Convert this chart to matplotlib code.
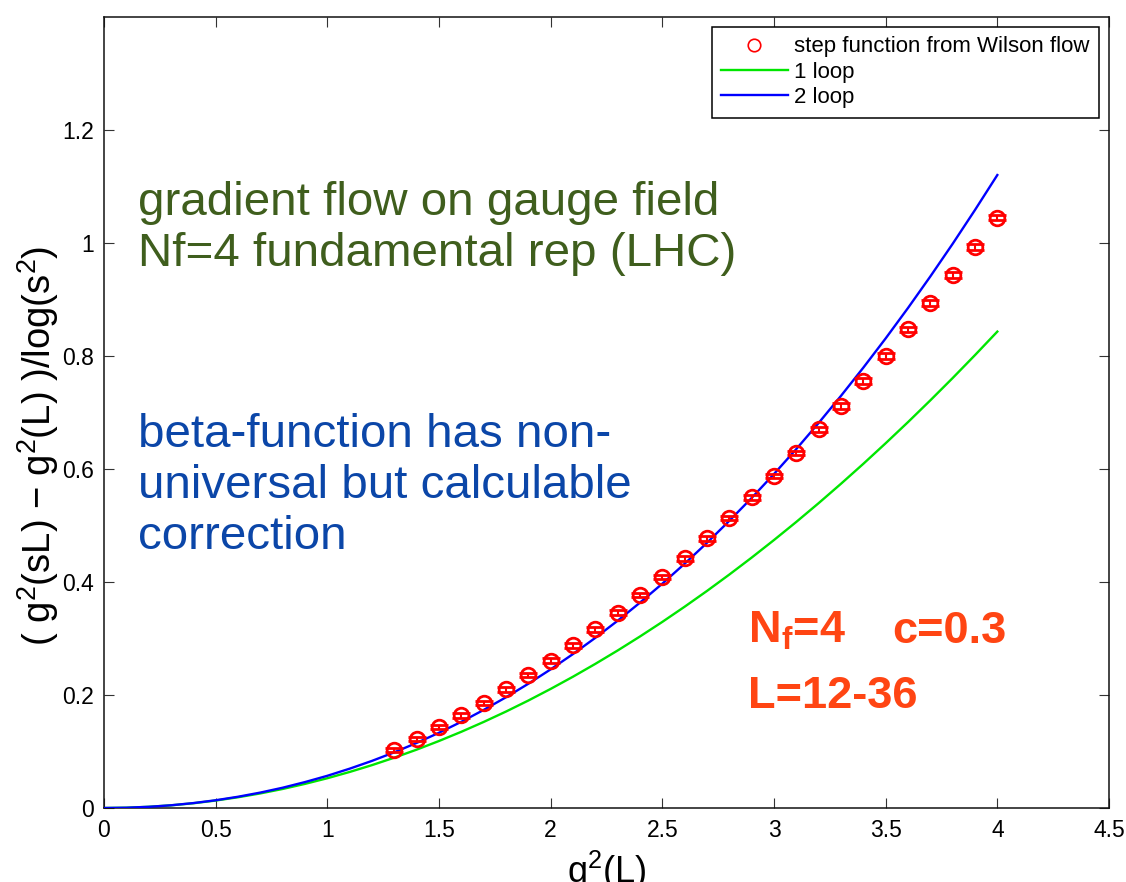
#!/usr/bin/env python3
"""Step function from Wilson flow vs. 1-loop and 2-loop perturbation theory."""
import matplotlib
matplotlib.use('Agg')
import matplotlib.pyplot as plt
from matplotlib.lines import Line2D

plt.rcParams['font.family'] = ['Liberation Sans', 'DejaVu Sans']
plt.rcParams['mathtext.fontset'] = 'custom'
plt.rcParams['mathtext.rm'] = 'Liberation Sans'
plt.rcParams['mathtext.it'] = 'Liberation Sans:italic'
plt.rcParams['mathtext.bf'] = 'Liberation Sans:bold'

# lattice step function
g2_data = [1.3, 1.4, 1.5, 1.6, 1.7, 1.8, 1.9, 2.0, 2.1, 2.2, 2.3, 2.4, 2.5, 2.6,
           2.7, 2.8, 2.9, 3.0, 3.1, 3.2, 3.3, 3.4, 3.5, 3.6, 3.7, 3.8, 3.9, 4.0]
step_data = [0.103, 0.122, 0.143, 0.164, 0.186, 0.210, 0.235, 0.261, 0.288, 0.316,
             0.346, 0.377, 0.409, 0.442, 0.477, 0.513, 0.550, 0.588, 0.628, 0.670,
             0.712, 0.756, 0.800, 0.847, 0.894, 0.943, 0.993, 1.045]
step_err = [0.004, 0.004, 0.004, 0.004, 0.004, 0.004, 0.004, 0.004, 0.004, 0.004,
            0.004, 0.004, 0.004, 0.004, 0.004, 0.004, 0.004, 0.004, 0.004, 0.005,
            0.005, 0.005, 0.005, 0.005, 0.005, 0.005, 0.005, 0.005]

# perturbative curves
g2_pt = [0.0, 0.1, 0.2, 0.3, 0.4, 0.5, 0.6, 0.7, 0.8, 0.9, 1.0, 1.1, 1.2, 1.3,
         1.4, 1.5, 1.6, 1.7, 1.8, 1.9, 2.0, 2.1, 2.2, 2.3, 2.4, 2.5, 2.6, 2.7,
         2.8, 2.9, 3.0, 3.1, 3.2, 3.3, 3.4, 3.5, 3.6, 3.7, 3.8, 3.9, 4.0]
one_loop = [0.0, 0.0005, 0.0021, 0.0047, 0.0084, 0.0132, 0.0190, 0.0258, 0.0337,
            0.0427, 0.0527, 0.0638, 0.0759, 0.0891, 0.1033, 0.1186, 0.1349,
            0.1523, 0.1707, 0.1902, 0.2108, 0.2324, 0.2551, 0.2788, 0.3036,
            0.3294, 0.3563, 0.3842, 0.4132, 0.4432, 0.4743, 0.5064, 0.5396,
            0.5739, 0.6092, 0.6456, 0.6830, 0.7215, 0.7610, 0.8016, 0.8432]
two_loop = [0.0, 0.0005, 0.0021, 0.0048, 0.0087, 0.0137, 0.0199, 0.0273, 0.0359,
            0.0459, 0.0570, 0.0696, 0.0834, 0.0986, 0.1152, 0.1332, 0.1526,
            0.1736, 0.1960, 0.2199, 0.2454, 0.2725, 0.3012, 0.3315, 0.3635,
            0.3971, 0.4324, 0.4694, 0.5083, 0.5488, 0.5912, 0.6354, 0.6815,
            0.7295, 0.7794, 0.8312, 0.8850, 0.9408, 0.9986, 1.0585, 1.1203]

xticks = [0, 0.5, 1, 1.5, 2, 2.5, 3, 3.5, 4, 4.5]
xticklabels = ['0', '0.5', '1', '1.5', '2', '2.5', '3', '3.5', '4', '4.5']
yticks = [0, 0.2, 0.4, 0.6, 0.8, 1.0, 1.2]
yticklabels = ['0', '0.2', '0.4', '0.6', '0.8', '1', '1.2']

W, H = 1126, 882
fig = plt.figure(figsize=(W / 100, H / 100), dpi=100)
ax = fig.add_axes([104 / W, 74 / H, 1005 / W, 791 / H])

ax.plot(g2_pt, one_loop, color='#00e600', lw=1.7, zorder=2)
ax.plot(g2_pt, two_loop, color='#0000ff', lw=1.7, zorder=3)
ax.errorbar(g2_data, step_data, yerr=step_err, fmt='o', color='#ff0000',
            mfc='none', mec='#ff0000', ms=10.5, mew=2.0, elinewidth=1.5,
            capsize=6.5, capthick=1.5, zorder=4)

ax.set_xlim(0, 4.5)
ax.set_ylim(0, 1.4)
ax.set_xticks(xticks)
ax.set_xticklabels(xticklabels)
ax.set_yticks(yticks)
ax.set_yticklabels(yticklabels)
ax.tick_params(direction='in', length=7, width=0.8, top=True, right=True,
               labelsize=16.5, color='#333333')
ax.tick_params(axis='x', pad=8)
ax.tick_params(axis='y', pad=7)
for sp in ax.spines.values():
    sp.set_linewidth(1.1)
    sp.set_color('#111111')

fig.text(606.5 / W, 1 - 849 / H, r'g$^{2}$(L)', fontsize=26, ha='center', va='top')
fig.text(38 / W, 1 - 446 / H, r'( g$^{2}$(sL) − g$^{2}$(L) )/log(s$^{2}$)',
         fontsize=27.5, rotation=90, ha='center', va='center')

handles = [
    Line2D([], [], ls='none', marker='o', mfc='none', mec='#ff0000', ms=9, mew=1.2),
    Line2D([], [], color='#00e600', lw=1.7),
    Line2D([], [], color='#0000ff', lw=1.7),
]
labels = ['step function from Wilson flow', '1 loop', '2 loop']
leg = ax.legend(handles, labels, loc='upper right',
                bbox_to_anchor=((1099 - 104) / 1005, (808 - 27) / 791),
                borderaxespad=0, fontsize=16, handlelength=3.0,
                handletextpad=0.3, labelspacing=0.2, borderpad=0.42,
                fancybox=False, framealpha=1, edgecolor='black')
leg.get_frame().set_linewidth(1.1)

txt_kw = dict(transform=fig.transFigure, fontsize=34.2, ha='left', va='baseline',
              linespacing=1.2)
ax.text(138 / W, 1 - 266 / H, 'gradient flow on gauge field\nNf=4 fundamental rep (LHC)',
        color='#3f5e1d', **txt_kw)
ax.text(138 / W, 1 - 549 / H,
        'beta-function has non-\nuniversal but calculable\ncorrection',
        color='#0b46a8', **txt_kw)

or_kw = dict(transform=fig.transFigure, fontsize=32.5, fontweight='bold',
             color='#ff4513', ha='left', va='baseline')
ax.text(748 / W, 1 - 643 / H, r'N$_{\mathregular{f}}$=4', **or_kw)
ax.text(892 / W, 1 - 643 / H, 'c=0.3', **or_kw)
ax.text(748 / W, 1 - 708 / H, 'L=12-36', **or_kw)

fig.savefig('out.png', dpi=100)
